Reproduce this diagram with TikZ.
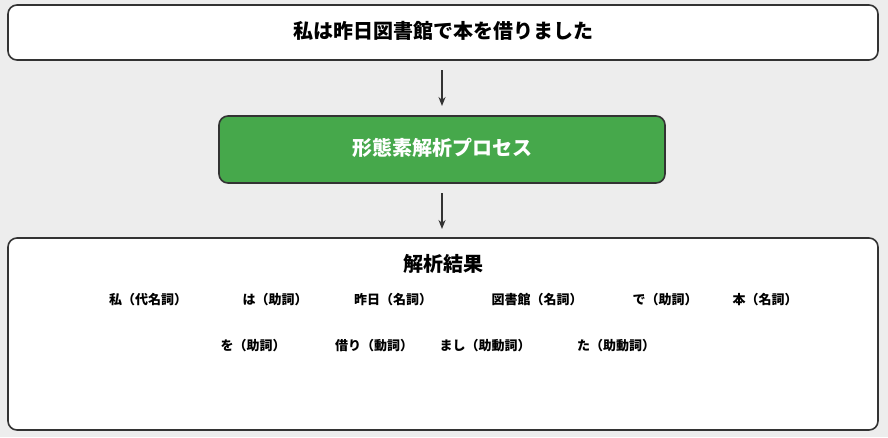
\documentclass[tikz,border=0pt]{standalone}
\usepackage{fontspec}
\newfontfamily\jpfont{Noto Sans CJK JP}
\usetikzlibrary{arrows.meta}

\begin{document}
\begin{tikzpicture}[
		x=1pt,y=-1pt,
		>={Stealth[length=9pt,width=7pt]},
		box/.style={draw=black!80,line width=1.6pt,rounded corners=9pt,fill=white},
		big/.style={font=\jpfont\bfseries\fontsize{20}{24}\selectfont},
		item/.style={font=\jpfont\bfseries\fontsize{13}{16}\selectfont,inner sep=0pt}
		]
		\fill[black!7] (0,0) rectangle (888,437);
		\draw[box] (8,5) rectangle (878,60);
		\node[big] (sent) at (443,31){私は昨日図書館で本を借りました};
		\draw[box,fill={rgb,255:red,70;green,168;blue,75}] (219,116) rectangle (665,183);
		\node[big,text=white] (proc) at (442,148){形態素解析プロセス};
		\draw[box] (8,238) rectangle (878,430);
		\node[big] (res) at (443,264){解析結果};
		\coordinate (a1) at (442,70);
		\coordinate (a2) at (442,106);
		\coordinate (b1) at (442,193);
		\coordinate (b2) at (442,229);
		\draw[->,line width=1.6pt,black!80] (a1) -- (a2);
		\draw[->,line width=1.6pt,black!80] (b1) -- (b2);
		% tokens
		\node[item] (t1) at (148,300){私（代名詞）};
		\node[item] (t2) at (275,300){は（助詞）};
		\node[item] (t3) at (393,300){昨日（名詞）};
		\node[item] (t4) at (537,300){図書館（名詞）};
		\node[item] (t5) at (665,300){で（助詞）};
		\node[item] (t6) at (765,300){本（名詞）};
		\node[item] (t7) at (253,346){を（助詞）};
		\node[item] (t8) at (374,346){借り（動詞）};
		\node[item] (t9) at (485,346){まし（助動詞）};
		\node[item] (t10) at (616,346){た（助動詞）};
\end{tikzpicture}
\end{document}
